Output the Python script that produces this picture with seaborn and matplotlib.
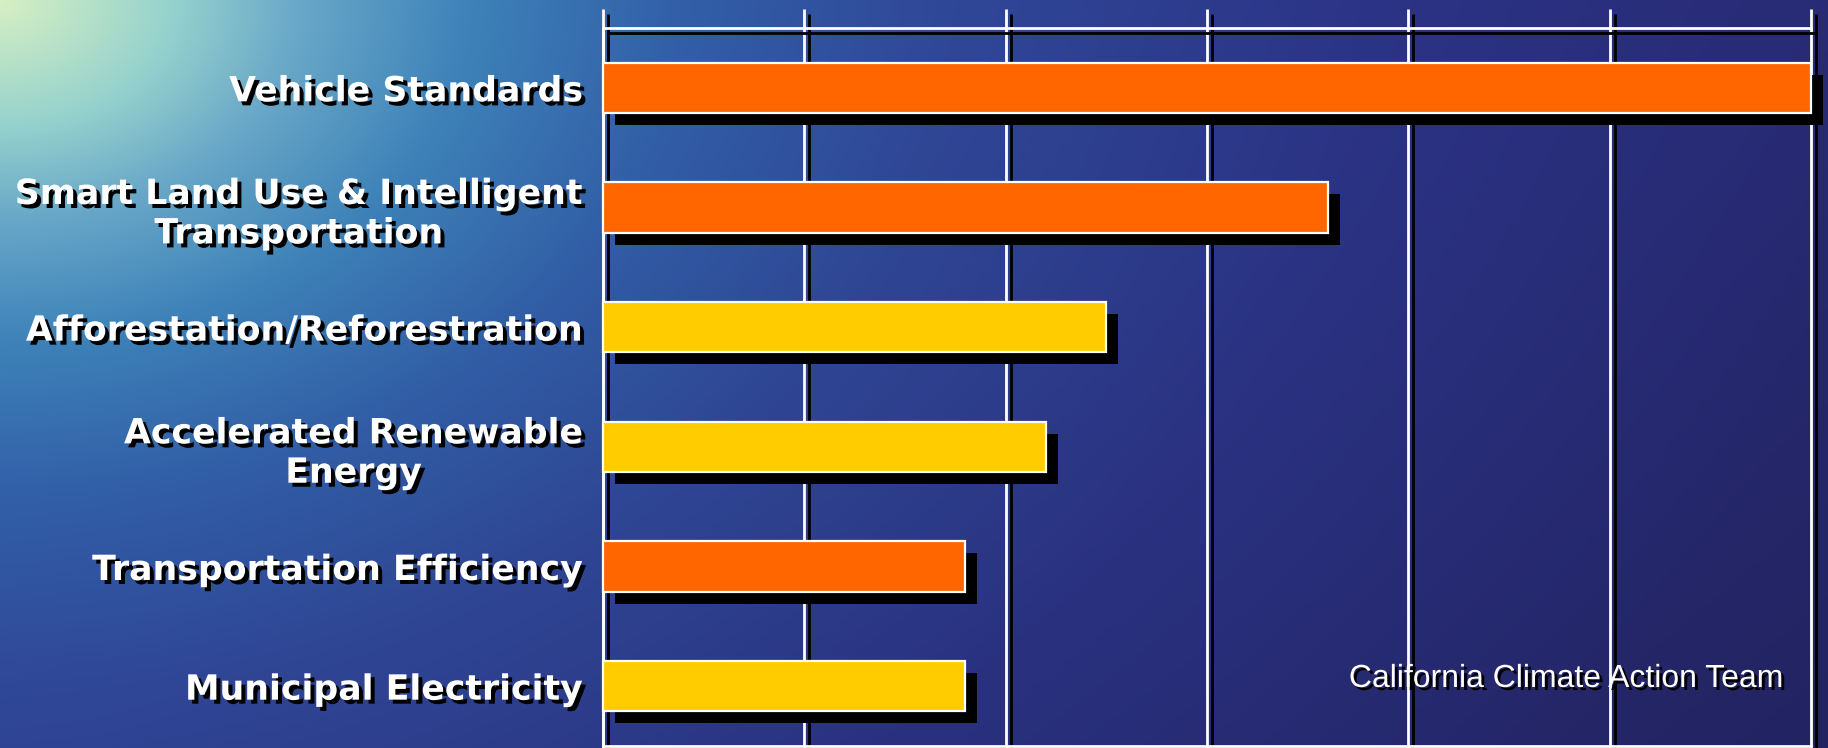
import numpy as np
import matplotlib
matplotlib.use("Agg")
import matplotlib.pyplot as plt
import matplotlib.patheffects as pe
import seaborn as sns
import pandas as pd

# ---- data ----
categories = [
    "Vehicle Standards",
    "Smart Land Use & Intelligent\nTransportation",
    "Afforestation/Reforestration",
    "Accelerated Renewable\nEnergy",
    "Transportation Efficiency",
    "Municipal Electricity",
]
values = [30, 18, 12.5, 11, 9, 9]
bar_colors = ["#FF6600", "#FF6600", "#FFCC00", "#FFCC00", "#FF6600", "#FFCC00"]
x_ticks = [0, 5, 10, 15, 20, 25, 30]
source_note = "California Climate Action Team"

W, H = 1828, 748
DPI = 100
PX = 72 / DPI  # points per pixel

sns.set_theme(style="white")
plt.rcParams['font.family'] = ['DejaVu Sans']

fig = plt.figure(figsize=(W / DPI, H / DPI), dpi=DPI)

# ---- background (water-like gradient) ----
bg = fig.add_axes([0, 0, 1, 1], zorder=-10)
yy, xx = np.mgrid[0:H, 0:W]
r = np.sqrt((xx / 850.0) ** 2 + (yy / 620.0) ** 2)
stops_r = [0, 0.2, 0.35, 0.55, 0.8, 1.1, 1.6, 2.2, 3.2]
stops_c = np.array([
    (215, 240, 195), (150, 210, 205), (105, 168, 200), (62, 130, 185),
    (50, 95, 168), (48, 72, 152), (44, 52, 135), (40, 42, 115),
    (35, 35, 95)]) / 255.0
img = np.stack([np.interp(r, stops_r, stops_c[:, k]) for k in range(3)], axis=-1)
img *= (1 - 0.12 * (yy / H) * (xx / W))[..., None]
bg.imshow(img, aspect='auto', extent=(0, W, H, 0), interpolation='bilinear')
bg.axis('off')

# ---- main axes ----
ax = fig.add_axes([603 / W, 1 - 746 / H, (1811 - 603) / W, (746 - 28) / H])
ax.patch.set_alpha(0)

df = pd.DataFrame({"category": categories, "value": values})
sns.barplot(data=df, x="value", y="category", hue="category",
            palette=dict(zip(categories, bar_colors)), legend=False,
            orient='h', width=0.42, edgecolor='white', linewidth=1.6,
            saturation=1, ax=ax)

for p in ax.patches:
    p.set_clip_on(False)
    p.set_zorder(3)
    p.set_path_effects([pe.SimplePatchShadow(offset=(12 * PX, -12 * PX),
                                             shadow_rgbFace='black', alpha=1),
                        pe.Normal()])

ax.set_xlim(0, 30)
ax.set_ylim(5.5, -0.5)
ax.set_xticks(x_ticks)
ax.set_xlabel('')
ax.set_ylabel('')
ax.set_axisbelow(True)

line_shadow = [pe.SimpleLineShadow(offset=(5 * PX, -5 * PX), shadow_color='black',
                                   alpha=1), pe.Normal()]

ax.grid(axis='x', color='white', linewidth=2)
ax.grid(axis='y', visible=False)
for gl in ax.get_xgridlines():
    gl.set_clip_on(False)
    gl.set_path_effects(line_shadow)

ax.xaxis.tick_top()
ax.tick_params(axis='x', which='major', top=True, bottom=False, labeltop=False,
               labelbottom=False, length=19 * PX, width=2, color='white',
               direction='out')
for t in ax.xaxis.get_major_ticks():
    t.tick2line.set_path_effects(line_shadow)

for side in ['top', 'left', 'bottom']:
    ax.spines[side].set_visible(True)
    ax.spines[side].set_color('white')
    ax.spines[side].set_linewidth(2)
    ax.spines[side].set_zorder(1)
ax.spines['top'].set_path_effects(line_shadow)
ax.spines['left'].set_path_effects(line_shadow)
ax.spines['right'].set_visible(False)

ax.tick_params(axis='y', length=0, pad=20 * PX, labelsize=25.0, labelcolor='white')
text_shadow = [pe.SimplePatchShadow(offset=(4 * PX, -4 * PX), shadow_rgbFace='black',
                                    alpha=1), pe.Normal()]
for lab in ax.get_yticklabels():
    lab.set_fontweight('bold')
    lab.set_multialignment('center')
    lab.set_path_effects(text_shadow)

ax.text(0.9785, 0.0822, source_note, transform=ax.transAxes, ha='right',
        va='baseline', fontsize=23, color='white', family='Liberation Sans',
        zorder=5,
        path_effects=[pe.SimplePatchShadow(offset=(3 * PX, -3 * PX),
                                           shadow_rgbFace='black', alpha=1),
                      pe.Normal()])

fig.savefig('out.png', dpi=DPI)
